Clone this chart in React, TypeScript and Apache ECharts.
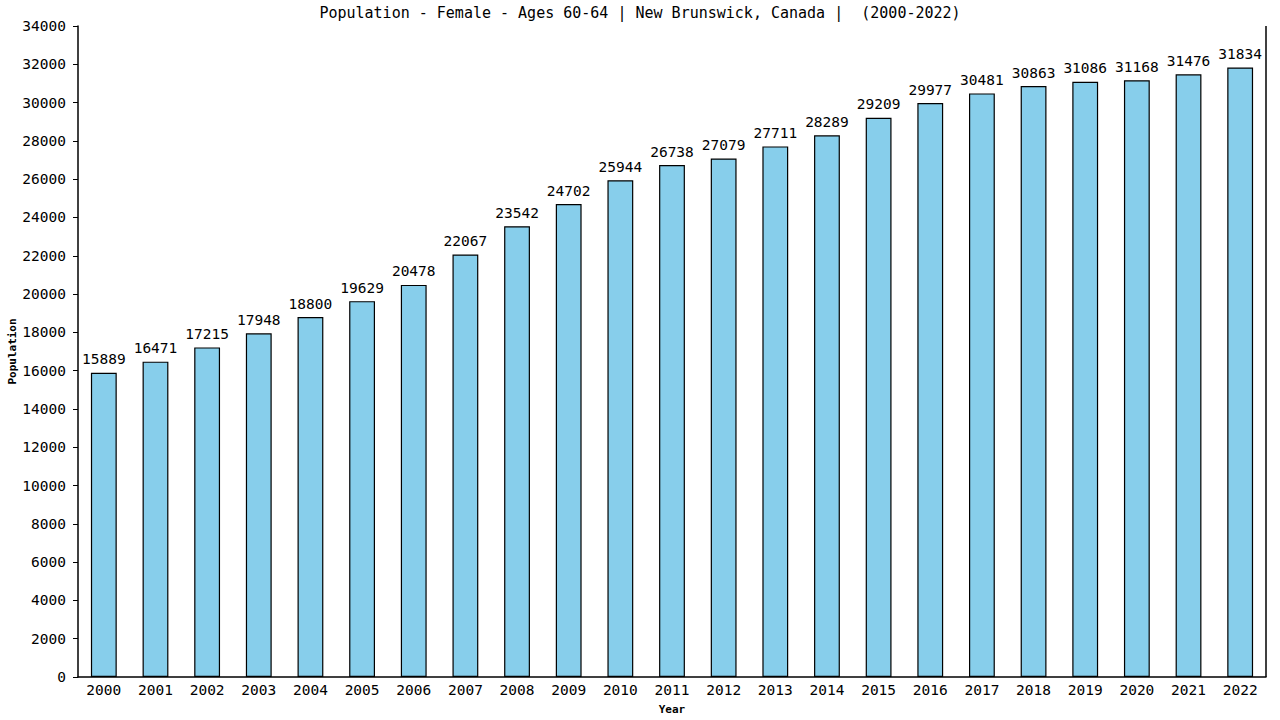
import React, { useRef, useEffect } from 'react';
import * as echarts from 'echarts';

const years = [
    '2000', '2001', '2002', '2003', '2004', '2005', '2006', '2007', '2008', '2009', '2010', '2011',
    '2012', '2013', '2014', '2015', '2016', '2017', '2018', '2019', '2020', '2021', '2022'
];
const population = [
    15889, 16471, 17215, 17948, 18800, 19629, 20478, 22067, 23542, 24702, 25944, 26738,
    27079, 27711, 28289, 29209, 29977, 30481, 30863, 31086, 31168, 31476, 31834
];

const FONT = '"DejaVu Sans Mono", monospace';

const App: React.FC = () => {
    const chartRef = useRef<HTMLDivElement>(null);

    useEffect(() => {
        if (!chartRef.current) return;
        const chart = echarts.init(chartRef.current, null, { renderer: 'svg' });

        const option: any = {
            animation: false,
            backgroundColor: '#ffffff',
            title: {
                text: 'Population - Female - Ages 60-64 | New Brunswick, Canada |  (2000-2022)',
                left: 'center',
                top: 0,
                textStyle: { fontFamily: FONT, fontSize: 15, fontWeight: 'normal', color: '#000' }
            },
            grid: { left: 78, right: 14, top: 26, bottom: 43, outerBoundsMode: 'none', containLabel: false },
            xAxis: {
                type: 'category',
                data: years,
                name: 'Year',
                nameLocation: 'middle',
                nameGap: 27,
                nameMoveOverlap: false,
                nameTextStyle: { fontFamily: FONT, fontSize: 11, fontWeight: 'bold', color: '#000' },
                axisLine: { lineStyle: { color: '#000', width: 1.5 } },
                axisTick: { show: false },
                axisLabel: { fontFamily: FONT, fontSize: 14.5, color: '#000', margin: 5 }
            },
            yAxis: {
                type: 'value',
                min: 0,
                max: 34000,
                interval: 2000,
                name: 'Population',
                nameLocation: 'middle',
                nameGap: 60,
                nameMoveOverlap: false,
                nameTextStyle: { fontFamily: FONT, fontSize: 11, fontWeight: 'bold', color: '#000' },
                axisLine: { show: true, lineStyle: { color: '#000', width: 1.5 } },
                axisTick: { show: true, length: 5, lineStyle: { color: '#000' } },
                axisLabel: {
                    fontFamily: FONT,
                    fontSize: 14.5,
                    color: '#000',
                    margin: 12,
                    formatter: (v: number) => String(v)
                },
                splitLine: { show: false }
            },
            graphic: [
                {
                    type: 'line',
                    shape: { x1: 1266, y1: 26, x2: 1266, y2: 677 },
                    style: { stroke: '#000', lineWidth: 1.5 }
                }
            ],
            series: [
                {
                    type: 'bar',
                    data: population,
                    barWidth: '50%',
                    itemStyle: {
                        color: '#87ceeb',
                        borderColor: '#000',
                        borderWidth: 1.2
                    },
                    label: {
                        show: true,
                        position: 'top',
                        distance: 6,
                        fontFamily: FONT,
                        fontSize: 14.5,
                        color: '#000'
                    }
                }
            ]
        };
        chart.setOption(option);

        return () => {
            chart.dispose();
        };
    }, []);

    return <div ref={chartRef} style={{ width: 1280, height: 720, position: 'absolute', left: 0, top: 0 }} />;
};

export default App;
